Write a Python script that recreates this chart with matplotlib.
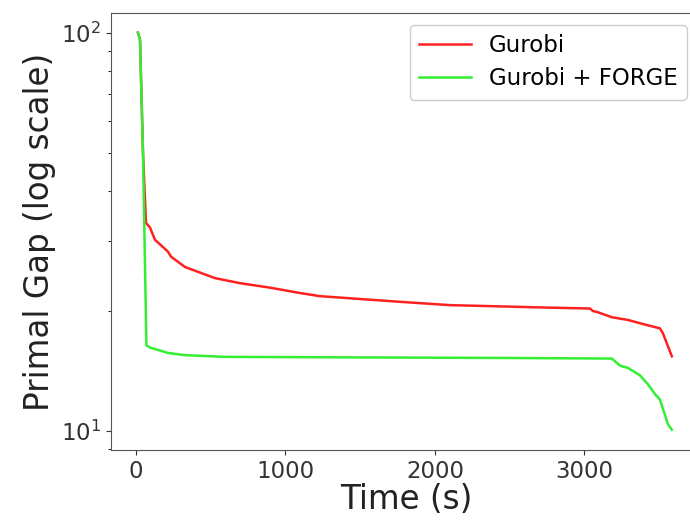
import matplotlib
matplotlib.use('Agg')
import matplotlib.pyplot as plt

# Gurobi primal gap over time
gurobi_time = [13, 27, 47, 67, 94, 127, 214, 234, 328, 528, 696, 896, 1097, 1231,
               1766, 2100, 2769, 3037, 3057, 3084, 3184, 3291, 3405, 3505, 3525, 3585]
gurobi_gap = [100, 96, 50, 33.3, 32.4, 30.2, 28.2, 27.4, 25.8, 24.2, 23.5, 22.9, 22.2, 21.8,
              21.1, 20.7, 20.4, 20.3, 20.0, 19.9, 19.3, 19.0, 18.5, 18.1, 17.6, 15.4]

# Gurobi + FORGE
forge_time = [13, 27, 47, 70, 94, 214, 328, 600, 1500, 2500, 3184, 3237, 3291, 3371,
              3425, 3478, 3505, 3559, 3585]
forge_gap = [100, 96, 50, 16.4, 16.2, 15.7, 15.5, 15.35, 15.3, 15.25, 15.2, 14.6, 14.4, 13.8,
             13.1, 12.3, 12.0, 10.4, 10.07]

fig = plt.figure(figsize=(6.9, 5.22), dpi=100)
ax = fig.add_axes([111 / 690, 1 - 450 / 522, 590 / 690, 437 / 522])

ax.plot(gurobi_time, gurobi_gap, color='#ff2020', lw=1.8, label='Gurobi')
ax.plot(forge_time, forge_gap, color='#33ee33', lw=1.8, label='Gurobi + FORGE')
ax.set_yscale('log')
ax.set_xlim(-167, 3780)
ax.set_ylim(8.96, 112)
ax.set_xticks([0, 1000, 2000, 3000])

ax.set_xlabel('Time (s)', fontsize=23.5, color='#222222', labelpad=0)
ax.set_ylabel('Primal Gap (log scale)', fontsize=23.5, color='#222222', labelpad=4)
ax.tick_params(labelsize=16.5, colors='#333333')
for s in ax.spines.values():
    s.set_color('#555555')

ax.legend(loc='upper right', bbox_to_anchor=(687 / 690, 1 - 25 / 522),
          bbox_transform=fig.transFigure, borderaxespad=0, fontsize=16.5,
          handlelength=2.27, labelspacing=0.45, framealpha=1)

plt.savefig('out.png', dpi=100)
